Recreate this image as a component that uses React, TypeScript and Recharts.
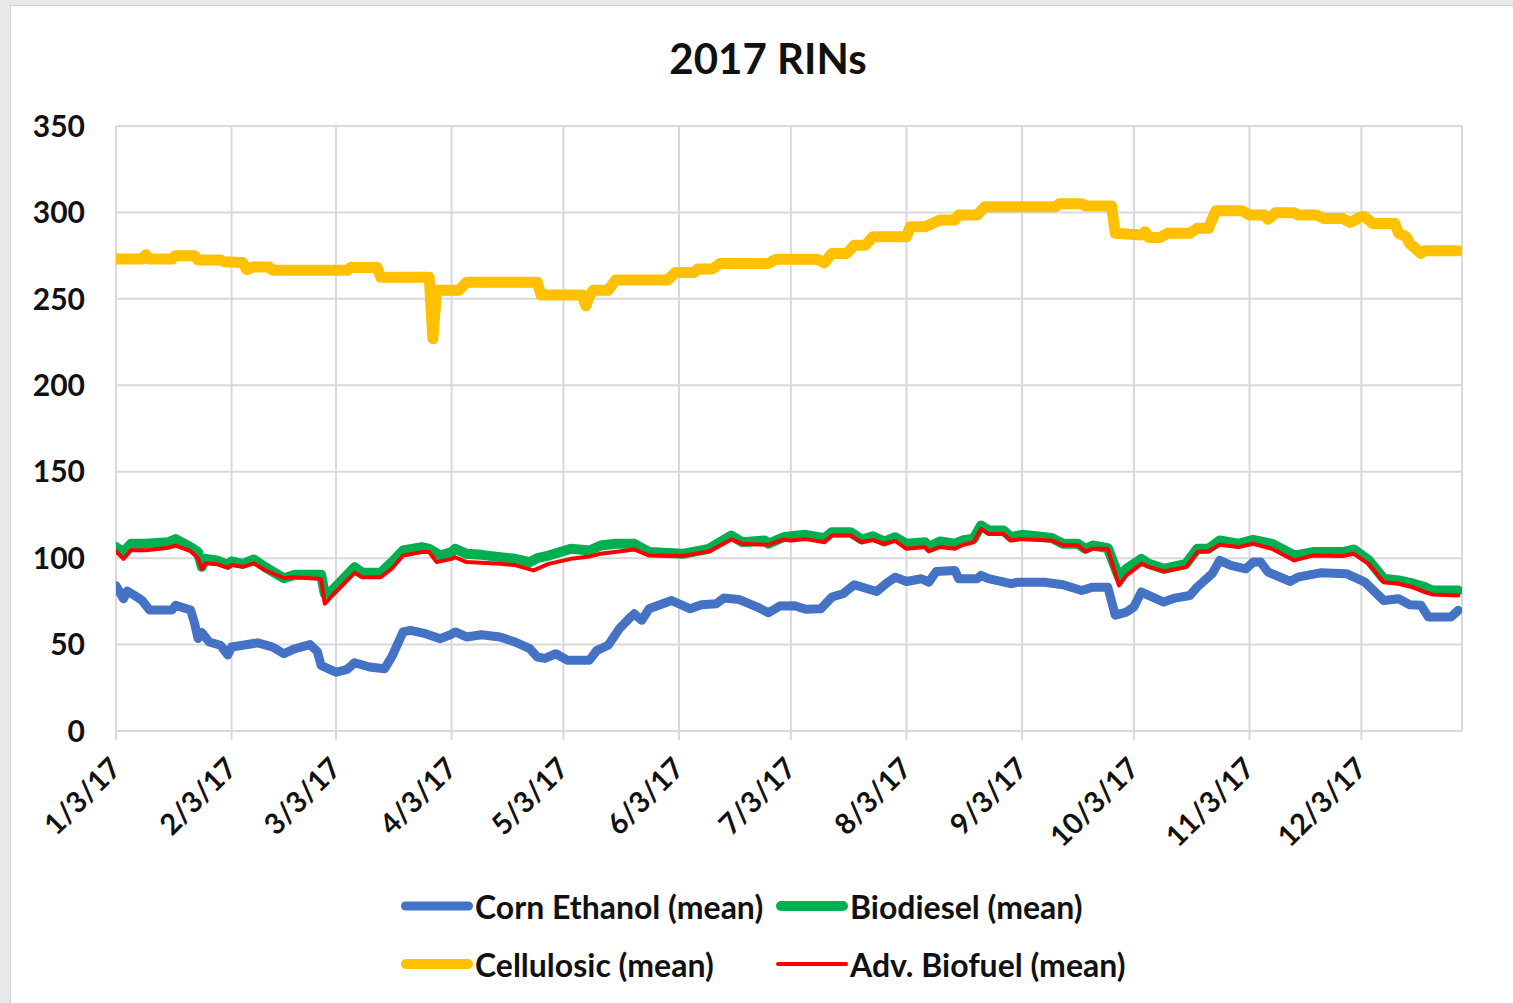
import React from 'react';
import { LineChart, Line, XAxis, YAxis, CartesianGrid, Legend } from 'recharts';

// Day offsets since 1/3/17 of the month ticks, and their labels
const monthTickDays = [0, 31, 59, 90, 120, 151, 181, 212, 243, 273, 304, 334];
const monthTickLabels = ['1/3/17', '2/3/17', '3/3/17', '4/3/17', '5/3/17', '6/3/17', '7/3/17', '8/3/17', '9/3/17', '10/3/17', '11/3/17', '12/3/17'];
const yTicks = [0, 50, 100, 150, 200, 250, 300, 350];

const cornDays = [0, 2, 3, 5, 7, 9, 15, 16, 20, 21, 22, 23, 25, 28, 30, 31, 34, 38, 42, 45, 48, 52, 54, 55, 59, 62, 64, 68, 72, 74, 77, 79, 83, 87, 90, 91, 94, 98, 103, 107, 111, 113, 115, 118, 121, 127, 129, 132, 135, 138, 139, 141, 143, 149, 154, 157, 161, 163, 167, 172, 175, 178, 182, 185, 189, 192, 195, 198, 204, 207, 209, 212, 216, 218, 220, 225, 226, 231, 232, 234, 240, 242, 249, 254, 259, 262, 266, 268, 271, 273, 275, 281, 284, 288, 290, 294, 296, 299, 303, 305, 307, 309, 315, 317, 323, 330, 335, 340, 344, 347, 350, 352, 358, 360];
const cornValues = [84, 76.5, 81, 78.4, 75.5, 70, 70, 72.7, 70, 63, 53.5, 57, 51.5, 49.6, 44, 48.6, 49.6, 51, 48.6, 44.7, 47.6, 50, 46, 38, 34, 35.7, 39.5, 37, 36, 43, 57.3, 58.2, 56.3, 53.4, 56, 57.3, 54.4, 55.7, 54.4, 51.5, 47.6, 42.8, 42, 44.7, 41, 41, 46.7, 49.6, 59.2, 65.9, 67.8, 64, 70.7, 75.5, 70.7, 73, 73.6, 76.9, 76.1, 71.7, 68.4, 72.3, 72.5, 70.4, 70.7, 77.5, 79.4, 84.6, 80.7, 86.1, 89, 86.5, 88.1, 86.1, 92.3, 92.9, 88.1, 88.1, 90, 88.1, 85.2, 86.1, 86.1, 84.6, 81.3, 83.2, 83.2, 67, 68.8, 71.7, 80.4, 74.6, 76.9, 78.4, 83.3, 91, 98.7, 95.8, 93.8, 97.7, 97.7, 91.9, 86.5, 89, 91.5, 91, 86.1, 75.5, 76.5, 73, 72.7, 65.9, 65.9, 69.8];

const bioDays = [0, 2, 4, 8, 14, 16, 20, 22, 23, 24, 27, 30, 31, 34, 37, 40, 45, 48, 55, 56, 58, 64, 66, 71, 74, 77, 82, 84, 87, 90, 91, 94, 98, 103, 107, 111, 113, 116, 122, 127, 130, 134, 139, 143, 152, 159, 165, 168, 174, 175, 179, 181, 185, 190, 192, 197, 200, 203, 206, 209, 212, 217, 218, 221, 225, 227, 230, 232, 234, 238, 240, 243, 251, 254, 258, 260, 262, 266, 269, 271, 275, 277, 281, 287, 290, 293, 296, 301, 305, 310, 316, 321, 329, 332, 336, 340, 344, 348, 351, 353, 360];
const bioValues = [106.4, 103.5, 108.3, 108.3, 109.2, 111, 106.4, 103.5, 95, 99.6, 98.7, 96.1, 98.1, 96.7, 99.2, 94.8, 88.4, 90.4, 90.4, 79.4, 81.3, 94.8, 91.5, 91.5, 97.7, 104.4, 106.4, 105.4, 101.5, 103.5, 105.4, 102.5, 101.9, 100.6, 99.6, 97.7, 100, 101.5, 105.4, 104.4, 107.3, 108.3, 108.3, 103.5, 102.5, 105.4, 113.1, 109.2, 110.2, 108.3, 112.1, 112.7, 113.5, 111.6, 115, 115, 110.8, 112.7, 109.6, 112.1, 108.3, 109.2, 106.4, 109.6, 108.3, 110.2, 111.2, 118.9, 116, 116, 112.1, 113.5, 111.6, 108.3, 108.3, 105.4, 107.3, 105.8, 89, 93.8, 99.6, 96.7, 93.8, 96.7, 105.4, 105.4, 110.2, 108.3, 110.6, 108.3, 101.5, 103.5, 103.5, 105, 98.7, 88.1, 87.1, 85.2, 83.3, 81.3, 81.3];

const celluDays = [0, 7, 8, 9, 15, 16, 21, 22, 28, 29, 34, 35, 37, 41, 42, 62, 63, 70, 71, 84, 85, 86, 92, 94, 113, 114, 125, 126, 127, 128, 132, 134, 148, 150, 155, 156, 160, 162, 175, 177, 188, 190, 192, 196, 198, 201, 203, 212, 213, 217, 221, 225, 226, 231, 233, 252, 253, 259, 260, 267, 268, 275, 276, 277, 280, 282, 288, 290, 293, 295, 302, 304, 308, 309, 311, 316, 317, 322, 324, 329, 331, 334, 335, 337, 343, 344, 346, 347, 350, 351, 360];
const celluValues = [273, 273, 275.5, 273, 273, 275, 275, 272.5, 272.5, 271.5, 271, 267, 268.5, 268.5, 266.5, 266.5, 268.2, 268.2, 262.5, 262.5, 227, 255, 255, 259.6, 259.6, 252.3, 252.3, 246, 252, 255, 255, 260.9, 260.9, 265.2, 265.2, 267.3, 267.3, 270.5, 270.5, 272.9, 272.9, 270.8, 276.3, 276.3, 281, 281, 286, 286, 291.7, 291.7, 295.6, 295.6, 298.5, 298.5, 303.3, 303.3, 305, 305, 303.7, 303.7, 287.9, 287, 288.8, 285.5, 285.5, 287.9, 288, 290.8, 290.8, 301, 301, 298.5, 298.5, 296, 299.8, 299.8, 298.5, 298.5, 296.5, 296.5, 294.2, 297.5, 297.5, 293.6, 293.6, 288, 286, 282, 276.3, 277.9, 277.9];

const advDays = [0, 2, 4, 8, 14, 16, 20, 22, 23, 24, 27, 30, 31, 34, 37, 40, 45, 48, 55, 56, 58, 64, 66, 71, 74, 77, 82, 84, 86, 90, 91, 94, 103, 107, 112, 116, 122, 127, 130, 139, 143, 152, 159, 165, 168, 175, 179, 181, 185, 190, 192, 197, 200, 203, 206, 209, 212, 217, 218, 221, 225, 227, 230, 232, 234, 238, 240, 243, 251, 254, 258, 260, 262, 266, 269, 271, 275, 277, 281, 287, 290, 293, 296, 301, 305, 310, 316, 321, 329, 332, 336, 340, 344, 348, 351, 353, 360];
const advValues = [104, 99.6, 104.5, 104.5, 106, 107.3, 104, 100, 93.8, 97, 96.5, 94.5, 96, 95, 97, 93, 88.5, 89, 88, 73.6, 78.4, 91.5, 89, 89, 94, 101.5, 103.5, 103.5, 97.7, 99.6, 100.5, 97.7, 96.7, 96, 92.9, 96.7, 99.6, 101, 102.5, 105, 101.5, 101.2, 103.9, 110.8, 108.3, 107.7, 110.8, 110.2, 111, 109.2, 113.1, 113.1, 109.2, 110.5, 108.3, 110, 105.4, 106.5, 103.9, 106.5, 105.4, 107.5, 109.2, 116.9, 114, 114, 110.2, 111, 110.2, 107.5, 107.5, 103.9, 105.5, 105.4, 84.2, 90, 96.7, 95, 92.3, 94.8, 103.5, 104, 107.7, 106.4, 108.3, 105.4, 98.7, 101.5, 101.2, 102.5, 96.7, 86.1, 85.2, 83, 80.4, 79, 78.4];

const seriesNames = ['Corn Ethanol (mean)', 'Biodiesel (mean)', 'Cellulosic (mean)', 'Adv. Biofuel (mean)'];
const seriesColors = ['#4472C4', '#00B050', '#FFC000', '#FF0000'];

const toSeries = (days: number[], values: number[]) => days.map((d, i) => ({ day: d, value: values[i] }));

const cornData = toSeries(cornDays, cornValues);
const bioData = toSeries(bioDays, bioValues);
const celluData = toSeries(celluDays, celluValues);
const advData = toSeries(advDays, advValues);

const FONT = 'Lato, "Open Sans", sans-serif';

const XTick = (props: any) => {
  const { x, y, payload } = props;
  const idx = monthTickDays.indexOf(payload.value);
  const label = idx >= 0 ? monthTickLabels[idx] : '';
  const ax = x + 7;
  const ay = y + 28;
  return (
    <text
      x={ax}
      y={ay}
      transform={`rotate(-45 ${ax} ${ay})`}
      textAnchor="end"
      fontFamily={FONT}
      fontWeight={700}
      fontSize={29}
      fill="#111"
    >
      {label}
    </text>
  );
};

const legendItems = [
  { name: seriesNames[0], color: seriesColors[0], width: 9, left: 388, top: 0 },
  { name: seriesNames[1], color: seriesColors[1], width: 10, left: 763, top: 0 },
  { name: seriesNames[2], color: seriesColors[2], width: 10, left: 388, top: 58 },
  { name: seriesNames[3], color: seriesColors[3], width: 4, left: 763, top: 58 },
];

const renderLegend = () => (
  <div style={{ position: 'relative', width: 1503, height: 110 }}>
    {legendItems.map((it) => (
      <div
        key={it.name}
        style={{
          position: 'absolute',
          left: it.left,
          top: it.top,
          display: 'flex',
          alignItems: 'center',
          height: 40,
          whiteSpace: 'nowrap',
        }}
      >
        <svg width={76} height={20} style={{ display: 'block' }}>
          <line x1={it.width / 2 + 2} y1={10} x2={74 - it.width / 2} y2={10} stroke={it.color} strokeWidth={it.width} strokeLinecap="round" />
        </svg>
        <span style={{ fontFamily: FONT, fontWeight: 700, fontSize: 32, color: '#111', marginLeft: 0, letterSpacing: 0 }}>{it.name}</span>
      </div>
    ))}
  </div>
);

export default function App() {
  return (
    <div style={{ position: 'absolute', left: 0, top: 0, width: 1513, height: 1003, background: '#e8e8e8', overflow: 'hidden' }}>
      <div
        style={{
          position: 'absolute',
          left: 10,
          top: 5,
          width: 1510,
          height: 1000,
          background: '#ffffff',
          borderLeft: '1px solid #d2d2d2',
          borderTop: '1px solid #d2d2d2',
        }}
      >
        <div
          style={{
            position: 'absolute',
            left: 0,
            top: 31,
            width: 1514,
            textAlign: 'center',
            fontFamily: FONT,
            fontWeight: 700,
            fontSize: 42,
            color: '#111',
            lineHeight: '42px',
          }}
        >
          2017 RINs
        </div>
        <LineChart width={1503} height={997} margin={{ top: 120, right: 52, left: 0, bottom: 152 }}>
          <CartesianGrid stroke="#d9d9d9" strokeWidth={2} />
          <XAxis
            type="number"
            dataKey="day"
            domain={[0, 361]}
            ticks={monthTickDays}
            interval={0}
            height={120}
            allowDataOverflow
            axisLine={{ stroke: '#d9d9d9', strokeWidth: 2 }}
            tickLine={{ stroke: '#d9d9d9', strokeWidth: 2 }}
            tickSize={9}
            tick={<XTick />}
          />
          <YAxis
            type="number"
            domain={[0, 350]}
            ticks={yTicks}
            interval={0}
            width={105}
            axisLine={false}
            tickLine={false}
            tickSize={0}
            tickMargin={31}
            tick={{ fontFamily: FONT, fontWeight: 700, fontSize: 30, fill: '#111' }}
          />
          <Legend
            layout="horizontal"
            verticalAlign="middle"
            align="center"
            wrapperStyle={{ left: 0, top: 880, width: 1503 }}
            content={renderLegend}
          />
          <Line data={cornData} dataKey="value" name={seriesNames[0]} type="linear" stroke={seriesColors[0]} strokeWidth={9} dot={false} activeDot={false} isAnimationActive={false} strokeLinejoin="round" strokeLinecap="round" />
          <Line data={bioData} dataKey="value" name={seriesNames[1]} type="linear" stroke={seriesColors[1]} strokeWidth={10} dot={false} activeDot={false} isAnimationActive={false} strokeLinejoin="round" strokeLinecap="round" />
          <Line data={celluData} dataKey="value" name={seriesNames[2]} type="linear" stroke={seriesColors[2]} strokeWidth={11} dot={false} activeDot={false} isAnimationActive={false} strokeLinejoin="round" strokeLinecap="round" />
          <Line data={advData} dataKey="value" name={seriesNames[3]} type="linear" stroke={seriesColors[3]} strokeWidth={4} dot={false} activeDot={false} isAnimationActive={false} strokeLinejoin="round" strokeLinecap="round" />
        </LineChart>
      </div>
    </div>
  );
}
